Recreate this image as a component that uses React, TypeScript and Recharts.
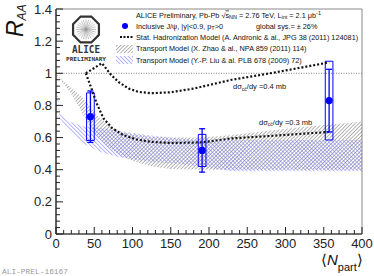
import React from 'react';
import { ComposedChart, Line, Area, Scatter, XAxis, YAxis, ErrorBar, ReferenceArea, ReferenceLine } from 'recharts';

// ---- data ----
const xMajorTicks = [0, 50, 100, 150, 200, 250, 300, 350, 400];
const yMajorTicks = [0, 0.2, 0.4, 0.6, 0.8, 1, 1.2, 1.4];
const yTickLabels = ['0', '0.2', '0.4', '0.6', '0.8', '1', '1.2', '1.4'];

const dataNpart = [45, 191, 357];
const dataRaa = [0.73, 0.52, 0.83];
const dataStat = [0.16, 0.135, 0.195];
const dataSys = [0.148, 0.1, 0.245];

const shm04Npart = [39, 60, 72, 82, 95, 108, 125, 150, 180, 230, 280, 320, 357];
const shm04Raa = [1.0, 1.063, 0.99, 0.945, 0.905, 0.884, 0.876, 0.882, 0.905, 0.96, 1.0, 1.035, 1.068];

const shm03Npart = [39, 46, 53, 62, 73, 88, 105, 123, 150, 190, 230, 280, 320, 357];
const shm03Raa = [1.0, 0.91, 0.815, 0.72, 0.66, 0.615, 0.589, 0.574, 0.566, 0.57, 0.595, 0.61, 0.623, 0.635];

const zhaoNpart = [0, 10, 20, 30, 40, 53, 68, 84, 100, 125, 150, 190, 230, 300, 400];
const zhaoHigh = [1.0, 0.95, 0.91, 0.87, 0.82, 0.74, 0.68, 0.637, 0.62, 0.605, 0.6, 0.6, 0.616, 0.655, 0.7];
const zhaoLow = [0.995, 0.935, 0.87, 0.79, 0.7, 0.61, 0.54, 0.49, 0.455, 0.42, 0.405, 0.4, 0.4, 0.4, 0.4];

const liuNpart = [0, 2, 5, 18, 35, 57, 79, 100, 123, 150, 175, 230, 300, 400];
const liuHigh = [1.0, 0.88, 0.75, 0.7, 0.67, 0.66, 0.645, 0.63, 0.615, 0.6, 0.59, 0.585, 0.585, 0.585];
const liuLow = [0.97, 0.82, 0.72, 0.637, 0.564, 0.512, 0.481, 0.465, 0.45, 0.44, 0.43, 0.39, 0.39, 0.39];

// ---- derived tables ----
const subdivide = (majors: number[], n: number) => {
  const out: number[] = [];
  for (let i = 0; i < majors.length - 1; i++) {
    for (let k = 0; k < n; k++) out.push(Math.round((majors[i] + ((majors[i + 1] - majors[i]) * k) / n) * 1e6) / 1e6);
  }
  out.push(majors[majors.length - 1]);
  return out;
};
const xAllTicks = subdivide(xMajorTicks, 5);
const yAllTicks = subdivide(yMajorTicks, 5);

const allX = Array.from(new Set([...shm04Npart, ...shm03Npart, ...zhaoNpart, ...liuNpart])).sort((a, b) => a - b);
const table = allX.map((x) => {
  const row: any = { x };
  const a = shm04Npart.indexOf(x);
  if (a >= 0) row.shm04 = shm04Raa[a];
  const b = shm03Npart.indexOf(x);
  if (b >= 0) row.shm03 = shm03Raa[b];
  const c = zhaoNpart.indexOf(x);
  if (c >= 0) row.zhao = [zhaoLow[c], zhaoHigh[c]];
  const d = liuNpart.indexOf(x);
  if (d >= 0) row.liu = [liuLow[d], liuHigh[d]];
  return row;
});
const points = dataNpart.map((x, i) => ({ x, raa: dataRaa[i], stat: dataStat[i], sys: dataSys[i] }));

const FONT = '"Liberation Sans", Arial, Helvetica, sans-serif';
const AXIS = '#222';
const BLUE = '#0000ff';

const XTick = (props: any) => {
  const { x, y, payload } = props;
  const v = payload.value;
  const major = xMajorTicks.includes(v);
  return (
    <g>
      <line x1={x} x2={x} y1={y} y2={y - (major ? 7 : 4)} stroke={AXIS} strokeWidth={1} />
      {major && (
        <text x={x} y={y + 14} textAnchor="middle" fontSize={13} fontFamily={FONT} fill={AXIS}>
          {v}
        </text>
      )}
    </g>
  );
};

const YTick = (props: any) => {
  const { x, y, payload } = props;
  const v = payload.value;
  const idx = yMajorTicks.findIndex((m) => Math.abs(m - v) < 1e-6);
  const major = idx >= 0;
  return (
    <g>
      <line x1={x} x2={x + (major ? 7 : 4)} y1={y} y2={y} stroke={AXIS} strokeWidth={1} />
      {major && (
        <text x={x - 4} y={y + 4.6} textAnchor="end" fontSize={13} fontFamily={FONT} fill={AXIS}>
          {yTickLabels[idx]}
        </text>
      )}
    </g>
  );
};

const Dot = (p: any) => <circle cx={p.cx} cy={p.cy} r={3.6} fill={BLUE} />;

const LEG = 7.3;
const octagon = (cx: number, cy: number, r: number) =>
  Array.from({ length: 8 }, (_, k) => {
    const a = ((22.5 + k * 45) * Math.PI) / 180;
    return `${cx + r * Math.cos(a)},${cy + r * Math.sin(a)}`;
  }).join(' ');

const Overlay = () => (
  <svg width={374} height={276} style={{ position: 'absolute', left: 0, top: 0, pointerEvents: 'none' }}>
    <defs>
      <pattern id="hatchGray" width="2.6" height="2.6" patternUnits="userSpaceOnUse" patternTransform="rotate(45)">
        <line x1="0" y1="0" x2="0" y2="2.6" stroke="#444" strokeWidth="0.8" />
      </pattern>
      <pattern id="hatchBlue" width="2.8" height="2.8" patternUnits="userSpaceOnUse" patternTransform="rotate(-45)">
        <line x1="0" y1="0" x2="0" y2="2.8" stroke="#6a6aff" strokeWidth="1" />
      </pattern>
    </defs>
    {/* ALICE logo */}
    <polygon points={octagon(86, 29.5, 14)} fill="#fff" stroke="#333" strokeWidth={2.2} />
    {Array.from({ length: 24 }, (_, k) => {
      const a = (k * 15 * Math.PI) / 180;
      return (
        <line key={k} x1={86} y1={29.5} x2={86 + 10 * Math.cos(a)} y2={29.5 + 10 * Math.sin(a)} stroke="#999" strokeWidth={0.6} />
      );
    })}
    <text x={72} y={53} fontSize={10.5} fontWeight="bold" fontFamily='"DejaVu Sans Mono", monospace' fill="#333" textLength={28} lengthAdjust="spacingAndGlyphs">
      ALICE
    </text>
    <text x={66} y={61} fontSize={5.5} fontWeight="bold" fontFamily='"DejaVu Sans Mono", monospace' fill="#333" textLength={40} lengthAdjust="spacingAndGlyphs">
      PRELIMINARY
    </text>

    {/* legend */}
    <g fontFamily={FONT} fontSize={LEG} fill="#111">
      <text x={136} y={17.5}>
        ALICE Preliminary, Pb-Pb √<tspan textDecoration="overline">s</tspan>
        <tspan fontSize={5.5} dy={1.5}>NN</tspan>
        <tspan dy={-1.5}> = 2.76 TeV, L</tspan>
        <tspan fontSize={5.5} dy={1.5}>int</tspan>
        <tspan dy={-1.5}> = 2.1 μb</tspan>
        <tspan fontSize={5.5} dy={-3}>-1</tspan>
      </text>
      <circle cx={125} cy={26} r={3} fill={BLUE} />
      <text x={136} y={28.5}>
        Inclusive J/ψ, |y|&lt;0.9, p<tspan fontSize={5.5} dy={1.5}>T</tspan>
        <tspan dy={-1.5}>&gt;0</tspan>
      </text>
      <text x={256} y={28.5}>global sys.= ± 26%</text>
      <line x1={120} x2={134} y1={37} y2={37} stroke="#111" strokeWidth={2} strokeDasharray="2 1.5" />
      <text x={136} y={39.5}>Stat. Hadronization Model (A. Andronic &amp; al., JPG 38 (2011) 124081)</text>
      <rect x={116} y={45} width={17} height={8} fill="url(#hatchGray)" />
      <text x={136} y={51}>Transport Model (X. Zhao &amp; al., NPA 859 (2011) 114)</text>
      <rect x={116} y={56} width={17} height={8} fill="url(#hatchBlue)" />
      <text x={136} y={62.5}>Transport Model (Y.-P. Liu &amp; al. PLB 678 (2009) 72)</text>
    </g>

    {/* curve labels */}
    <g fontFamily={FONT} fontSize={7.5} fill="#111">
      <text x={233} y={89}>
        dσ<tspan fontSize={5} dy={1.8}>cc̄</tspan>
        <tspan dy={-1.8}>/dy =0.4 mb</tspan>
      </text>
      <text x={259} y={124.5}>
        dσ<tspan fontSize={5} dy={1.8}>cc̄</tspan>
        <tspan dy={-1.8}>/dy =0.3 mb</tspan>
      </text>
    </g>

    {/* axis titles */}
    <text transform="translate(23,37) rotate(-90)" fontFamily={FONT} fill="#111">
      <tspan fontSize={23} fontStyle="italic">R</tspan>
      <tspan fontSize={12} fontStyle="italic" dy={3}>AA</tspan>
    </text>
    <text x={321} y={265} fontFamily={FONT} fill="#111" fontSize={15}>
      ⟨<tspan fontStyle="italic">N</tspan>
      <tspan fontSize={11} dy={6}>part</tspan>
      <tspan dy={-6}>⟩</tspan>
    </text>
    <text x={2} y={274} fontSize={8} fontFamily='"Liberation Mono", monospace' fill="#999" textLength={66} lengthAdjust="spacingAndGlyphs">
      ALI-PREL-16167
    </text>
  </svg>
);

export default function App() {
  return (
    <div style={{ position: 'absolute', left: 0, top: 0, width: 374, height: 276, background: '#fff' }}>
      <ComposedChart width={374} height={276} data={table} margin={{ top: 9, right: 12, bottom: 12, left: 16 }}>
        <XAxis
          type="number"
          dataKey="x"
          domain={[0, 400]}
          allowDataOverflow
          ticks={xAllTicks}
          interval={0}
          tick={<XTick />}
          tickLine={false}
          tickSize={0}
          tickMargin={0}
          height={30}
          axisLine={{ stroke: AXIS, strokeWidth: 1.2 }}
        />
        <YAxis
          type="number"
          domain={[0, 1.4]}
          allowDataOverflow
          ticks={yAllTicks}
          interval={0}
          tick={<YTick />}
          tickLine={false}
          tickSize={0}
          tickMargin={0}
          width={40}
          axisLine={{ stroke: AXIS, strokeWidth: 1.2 }}
        />
        <ReferenceArea x1={0} x2={400} y1={0} y2={1.4} fill="none" stroke="#888" strokeWidth={1} ifOverflow="visible" />
        <Area dataKey="zhao" type="linear" fill="url(#hatchGray)" fillOpacity={1} stroke="none" connectNulls isAnimationActive={false} />
        <Area dataKey="liu" type="linear" fill="url(#hatchBlue)" fillOpacity={1} stroke="none" connectNulls isAnimationActive={false} />
        <ReferenceLine y={1} stroke="#666" strokeWidth={0.8} strokeDasharray="1 1.5" />
        <Line dataKey="shm04" type="linear" stroke="#111" strokeWidth={2.2} strokeDasharray="2 2" dot={false} connectNulls isAnimationActive={false} />
        <Line dataKey="shm03" type="linear" stroke="#111" strokeWidth={2.2} strokeDasharray="2 2" dot={false} connectNulls isAnimationActive={false} />
        {points.map((p) => (
          <ReferenceArea
            key={p.x}
            x1={p.x - 5}
            x2={p.x + 5}
            y1={p.raa - p.sys}
            y2={p.raa + p.sys}
            fill="none"
            stroke={BLUE}
            strokeWidth={1}
            fillOpacity={0}
            ifOverflow="visible"
          />
        ))}
        <Scatter data={points} dataKey="raa" fill={BLUE} shape={Dot} isAnimationActive={false}>
          <ErrorBar dataKey="stat" direction="y" width={3} stroke={BLUE} strokeWidth={1.3} isAnimationActive={false} />
        </Scatter>
      </ComposedChart>
      <Overlay />
    </div>
  );
}
